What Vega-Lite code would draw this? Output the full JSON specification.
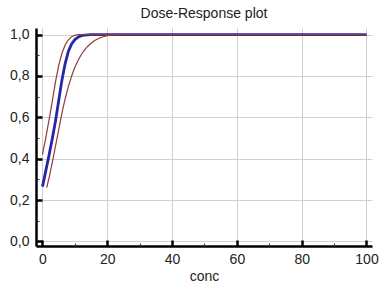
{
  "$schema": "https://vega.github.io/schema/vega-lite/v6.json",
  "autosize": "none",
  "width": 336,
  "height": 218,
  "padding": {"left": 36, "top": 28, "right": 7, "bottom": 41},
  "background": "white",
  "title": {"text": "Dose-Response plot", "fontSize": 14, "fontWeight": "normal", "font": "Liberation Sans", "color": "#222222", "anchor": "middle", "frame": "group", "offset": 7},
  "config": {"view": {"stroke": null}, "axis": {"labelFont": "Liberation Sans", "titleFont": "Liberation Sans", "labelColor": "#222222", "titleColor": "#222222"}},
  "data": {"values": [
    {"conc": 1.3, "resp": 0.26, "series": "lower"},
    {"conc": 2, "resp": 0.305, "series": "lower"},
    {"conc": 3, "resp": 0.38, "series": "lower"},
    {"conc": 4, "resp": 0.46, "series": "lower"},
    {"conc": 5, "resp": 0.54, "series": "lower"},
    {"conc": 6, "resp": 0.62, "series": "lower"},
    {"conc": 7, "resp": 0.69, "series": "lower"},
    {"conc": 8, "resp": 0.75, "series": "lower"},
    {"conc": 9, "resp": 0.8, "series": "lower"},
    {"conc": 10, "resp": 0.842, "series": "lower"},
    {"conc": 11, "resp": 0.876, "series": "lower"},
    {"conc": 12, "resp": 0.904, "series": "lower"},
    {"conc": 13, "resp": 0.926, "series": "lower"},
    {"conc": 14, "resp": 0.944, "series": "lower"},
    {"conc": 15, "resp": 0.958, "series": "lower"},
    {"conc": 16, "resp": 0.97, "series": "lower"},
    {"conc": 17, "resp": 0.979, "series": "lower"},
    {"conc": 18, "resp": 0.986, "series": "lower"},
    {"conc": 19, "resp": 0.991, "series": "lower"},
    {"conc": 20, "resp": 0.995, "series": "lower"},
    {"conc": 22, "resp": 0.999, "series": "lower"},
    {"conc": 24, "resp": 1.0, "series": "lower"},
    {"conc": 100, "resp": 1.0, "series": "lower"},
    {"conc": 0, "resp": 0.42, "series": "upper"},
    {"conc": 1, "resp": 0.5, "series": "upper"},
    {"conc": 2, "resp": 0.585, "series": "upper"},
    {"conc": 3, "resp": 0.675, "series": "upper"},
    {"conc": 4, "resp": 0.77, "series": "upper"},
    {"conc": 5, "resp": 0.85, "series": "upper"},
    {"conc": 6, "resp": 0.91, "series": "upper"},
    {"conc": 7, "resp": 0.95, "series": "upper"},
    {"conc": 8, "resp": 0.975, "series": "upper"},
    {"conc": 9, "resp": 0.99, "series": "upper"},
    {"conc": 10, "resp": 0.997, "series": "upper"},
    {"conc": 11, "resp": 1.0, "series": "upper"},
    {"conc": 100, "resp": 1.0, "series": "upper"},
    {"conc": 0, "resp": 0.265, "series": "fit"},
    {"conc": 1, "resp": 0.34, "series": "fit"},
    {"conc": 2, "resp": 0.415, "series": "fit"},
    {"conc": 3, "resp": 0.495, "series": "fit"},
    {"conc": 4, "resp": 0.58, "series": "fit"},
    {"conc": 5, "resp": 0.68, "series": "fit"},
    {"conc": 6, "resp": 0.78, "series": "fit"},
    {"conc": 7, "resp": 0.86, "series": "fit"},
    {"conc": 8, "resp": 0.92, "series": "fit"},
    {"conc": 9, "resp": 0.955, "series": "fit"},
    {"conc": 10, "resp": 0.976, "series": "fit"},
    {"conc": 11, "resp": 0.988, "series": "fit"},
    {"conc": 12, "resp": 0.995, "series": "fit"},
    {"conc": 13, "resp": 0.998, "series": "fit"},
    {"conc": 15, "resp": 1.0, "series": "fit"},
    {"conc": 100, "resp": 1.0, "series": "fit"}
  ]},
  "resolve": {"scale": {"x": "shared", "y": "shared"}, "axis": {"x": "independent", "y": "independent"}},
  "layer": [
    {
      "transform": [{"filter": "datum.series === 'fit'"}],
      "mark": {"type": "line", "color": "#2626a8", "strokeWidth": 2.8},
      "encoding": {
        "x": {"field": "conc", "type": "quantitative", "scale": {"domain": [-2, 101.7], "nice": false, "zero": false},
          "axis": {"orient": "bottom", "title": "conc", "values": [0, 20, 40, 60, 80, 100], "ticks": false, "grid": true, "gridColor": "#cfcfcf", "gridWidth": 1, "domainColor": "#000000", "domainWidth": 2.5, "labelFontSize": 14, "labelPadding": 6, "titleFontSize": 14, "titleFontWeight": "normal", "titlePadding": 3, "labelFlush": false}},
        "y": {"field": "resp", "type": "quantitative", "scale": {"domain": [-0.022, 1.032], "nice": false, "zero": false},
          "axis": {"orient": "left", "title": null, "values": [0, 0.2, 0.4, 0.6, 0.8, 1.0], "ticks": false, "grid": true, "gridColor": "#cfcfcf", "gridWidth": 1, "domainColor": "#000000", "domainWidth": 2.5, "labelFontSize": 14, "labelPadding": 7, "labelFlush": false, "labelExpr": "replace(format(datum.value, '.1f'), '.', ',')"}}
      }
    },
    {
      "transform": [{"filter": "datum.series === 'upper'"}],
      "mark": {"type": "line", "color": "#8e3b3b", "strokeWidth": 1.2},
      "encoding": {
        "x": {"field": "conc", "type": "quantitative",
          "axis": {"orient": "bottom", "title": null, "values": [0, 20, 40, 60, 80, 100], "labels": false, "grid": false, "domain": false, "ticks": true, "tickSize": 6, "offset": -6, "tickWidth": 2.5, "tickColor": "#000000", "zindex": 2}},
        "y": {"field": "resp", "type": "quantitative",
          "axis": {"orient": "left", "title": null, "values": [0, 0.2, 0.4, 0.6, 0.8, 1.0], "labels": false, "grid": false, "domain": false, "ticks": true, "tickSize": 6, "offset": -6, "tickWidth": 2.5, "tickColor": "#000000", "zindex": 2}}
      }
    },
    {
      "transform": [{"filter": "datum.series === 'lower'"}],
      "mark": {"type": "line", "color": "#8e3b3b", "strokeWidth": 1.2},
      "encoding": {
        "x": {"field": "conc", "type": "quantitative",
          "axis": {"orient": "bottom", "title": null, "values": [10, 30, 50, 70, 90], "labels": false, "grid": false, "domain": false, "ticks": true, "tickSize": 3, "offset": -3, "tickWidth": 1, "tickColor": "#333333", "zindex": 2}},
        "y": {"field": "resp", "type": "quantitative",
          "axis": {"orient": "left", "title": null, "values": [0.1, 0.3, 0.5, 0.7, 0.9], "labels": false, "grid": false, "domain": false, "ticks": true, "tickSize": 3, "offset": -3, "tickWidth": 1, "tickColor": "#333333", "zindex": 2}}
      }
    }
  ]
}
